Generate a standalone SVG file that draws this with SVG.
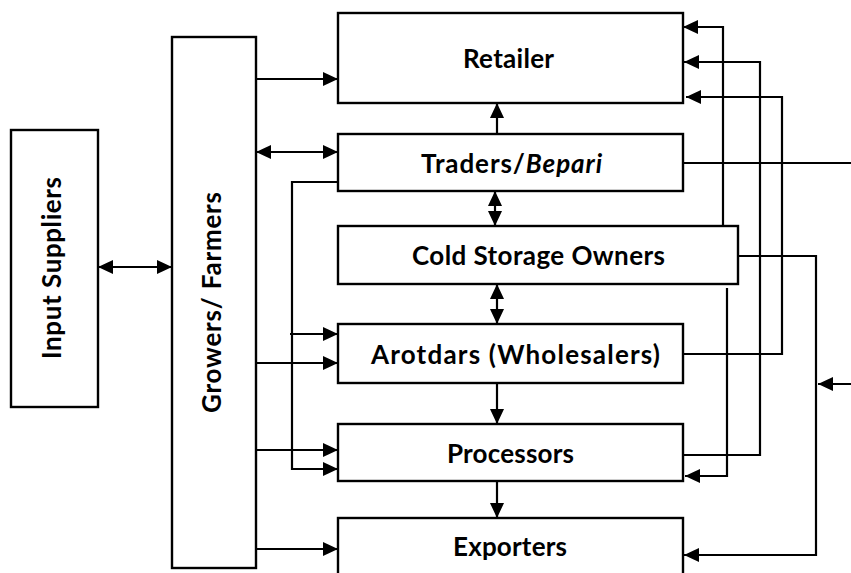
<svg xmlns="http://www.w3.org/2000/svg" width="851" height="573" viewBox="0 0 851 573">
<style>
.box{fill:#fff;stroke:#000;stroke-width:2.4}
.lbl{font-family:Lato,"Liberation Sans",Arial,sans-serif;font-weight:bold;font-size:26px;fill:#000}
.c{fill:none;stroke:#000;stroke-width:2.2}
.e{marker-end:url(#ah)}
.s{marker-start:url(#ah)}
</style>
<defs>
<marker id="ah" markerUnits="userSpaceOnUse" markerWidth="15" markerHeight="15" viewBox="0 0 15 15" refX="15" refY="7.5" orient="auto-start-reverse"><path d="M0,0.5 L15,7.5 L0,14.5 z" fill="#000"/></marker>
</defs>
<rect width="851" height="573" fill="#fff"/>
<g id="input-suppliers"><rect class="box" x="11" y="130" width="87" height="277"/><text class="lbl" transform="translate(61,268) rotate(-90)" text-anchor="middle" textLength="182">Input Suppliers</text></g>
<g id="growers"><rect class="box" x="172" y="37" width="84" height="531"/><text class="lbl" transform="translate(221,302.5) rotate(-90)" text-anchor="middle" textLength="221">Growers/ Farmers</text></g>
<g id="retailer"><rect class="box" x="338" y="13" width="345" height="90"/><text class="lbl" x="463" y="68" textLength="91">Retailer</text></g>
<g id="traders"><rect class="box" x="338" y="134" width="345" height="57"/><text class="lbl" x="421" y="173" textLength="181">Traders/<tspan font-style="italic">Bepari</tspan></text></g>
<g id="cold-storage"><rect class="box" x="338" y="226" width="400" height="58"/><text class="lbl" x="412" y="265" textLength="253">Cold Storage Owners</text></g>
<g id="arotdars"><rect class="box" x="338" y="324" width="345" height="59"/><text class="lbl" x="371" y="364" textLength="289">Arotdars (Wholesalers)</text></g>
<g id="processors"><rect class="box" x="338" y="424" width="345" height="57"/><text class="lbl" x="447" y="463" textLength="127">Processors</text></g>
<g id="exporters"><rect class="box" x="338" y="518" width="345" height="70"/><text class="lbl" x="453" y="556" textLength="114">Exporters</text></g>
<g id="connectors">
<path class="c e s" d="M98,267 H172"/>
<path class="c e" d="M256,79 H338"/>
<path class="c e s" d="M256,152 H338"/>
<path class="c e" d="M338,182 H292 V469 H338"/>
<path class="c e" d="M290,334 H338"/>
<path class="c e" d="M256,363 H338"/>
<path class="c e" d="M256,450 H338"/>
<path class="c e" d="M256,549 H338"/>
<path class="c e" d="M497,134 V103"/>
<path class="c e s" d="M495,191 V226"/>
<path class="c e s" d="M497,284 V324"/>
<path class="c e" d="M497,383 V424"/>
<path class="c e" d="M497,481 V518"/>
<path class="c e" d="M723,226 V27 H683"/>
<path class="c e" d="M683,455 H760 V62 H684"/>
<path class="c e" d="M684,354 H782 V97 H686"/>
<path class="c" d="M683,163 H851"/>
<path class="c e" d="M738,256 H816 V555 H684"/>
<path class="c e" d="M851,384 H818"/>
<path class="c e" d="M727,288 V476 H685"/>
</g>
</svg>
